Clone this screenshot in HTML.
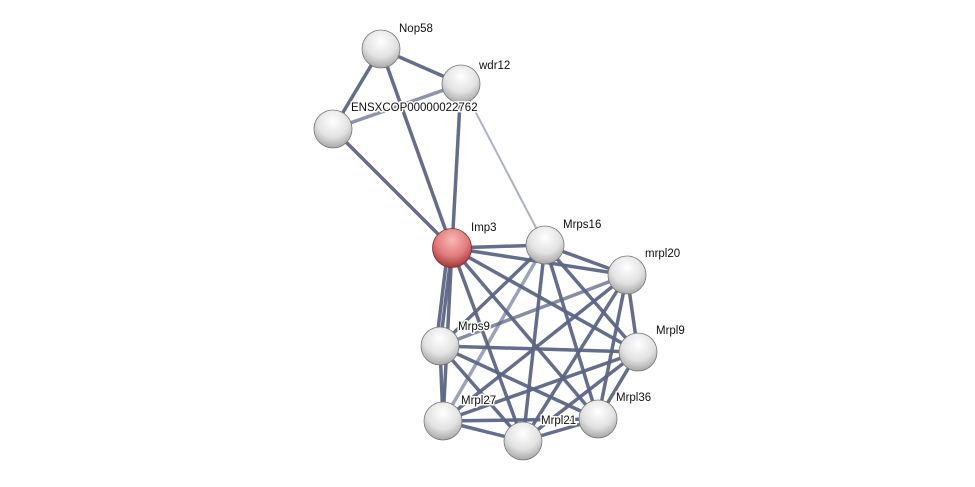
<!DOCTYPE html>
<html><head><meta charset="utf-8"><style>
html,body{margin:0;padding:0;background:#fff;}
svg{display:block}
text{font-family:"Liberation Sans",sans-serif;font-size:11.5px;fill:#111;paint-order:stroke;stroke:#fff;stroke-width:3px;stroke-linejoin:round}
</style></head><body>
<svg width="975" height="487" viewBox="0 0 975 487" xmlns="http://www.w3.org/2000/svg">
<defs>
<radialGradient id="g" cx="0.5" cy="0.3" r="0.7">
<stop offset="0" stop-color="#ffffff"/><stop offset="0.6" stop-color="#e2e2e2"/><stop offset="1" stop-color="#a8a8a8"/></radialGradient>
<radialGradient id="r" cx="0.5" cy="0.3" r="0.7">
<stop offset="0" stop-color="#f7b7b7"/><stop offset="0.6" stop-color="#e07a7a"/><stop offset="1" stop-color="#a03a3a"/></radialGradient>
</defs>
<g stroke="#5c6586" stroke-width="3.5" stroke-opacity="0.95">
<line x1="381" y1="49" x2="461" y2="84"/>
<line x1="381" y1="49" x2="333" y2="129"/>
<line x1="381" y1="49" x2="452" y2="248"/>
<line x1="461" y1="84" x2="452" y2="248"/>
<line x1="333" y1="129" x2="452" y2="248"/>
<line x1="461" y1="84" x2="333" y2="129" stroke-opacity="0.7"/>
<line x1="461" y1="84" x2="545" y2="245" stroke="#a8adc2" stroke-width="2"/>
<!-- clique -->
<line x1="452" y1="248" x2="545" y2="245"/>
<line x1="452" y1="248" x2="627" y2="275"/>
<line x1="452" y1="248" x2="638" y2="352"/>
<line x1="452" y1="248" x2="440" y2="346"/>
<line x1="448" y1="248" x2="436" y2="346"/>
<line x1="452" y1="248" x2="598" y2="419"/>
<line x1="452" y1="248" x2="443" y2="421"/>
<line x1="452" y1="248" x2="523" y2="441"/>
<line x1="545" y1="245" x2="627" y2="275"/>
<line x1="545" y1="245" x2="638" y2="352"/>
<line x1="545" y1="245" x2="440" y2="346"/>
<line x1="545" y1="245" x2="598" y2="419"/>
<line x1="545" y1="245" x2="443" y2="421" stroke-opacity="0.6"/>
<line x1="545" y1="245" x2="523" y2="441"/>
<line x1="627" y1="275" x2="638" y2="352"/>
<line x1="627" y1="275" x2="440" y2="346" stroke-opacity="0.75"/>
<line x1="627" y1="275" x2="598" y2="419"/>
<line x1="627" y1="275" x2="443" y2="421"/>
<line x1="627" y1="275" x2="523" y2="441"/>
<line x1="638" y1="352" x2="440" y2="346"/>
<line x1="638" y1="352" x2="598" y2="419"/>
<line x1="638" y1="352" x2="443" y2="421"/>
<line x1="638" y1="352" x2="523" y2="441"/>
<line x1="440" y1="346" x2="598" y2="419"/>
<line x1="440" y1="346" x2="443" y2="421"/>
<line x1="440" y1="346" x2="523" y2="441"/>
<line x1="598" y1="419" x2="443" y2="421"/>
<line x1="598" y1="419" x2="523" y2="441"/>
<line x1="443" y1="421" x2="523" y2="441"/>
</g>
<g stroke="#777" stroke-width="0.8">
<circle cx="381" cy="49" r="19" fill="url(#g)"/>
<circle cx="461" cy="84" r="19" fill="url(#g)"/>
<circle cx="333" cy="129" r="19" fill="url(#g)"/>
<circle cx="452" cy="248" r="19.5" fill="url(#r)" stroke="#8a2a2a"/>
<circle cx="545" cy="245" r="19" fill="url(#g)"/>
<circle cx="627" cy="275" r="19" fill="url(#g)"/>
<circle cx="638" cy="352" r="19" fill="url(#g)"/>
<circle cx="440" cy="346" r="19" fill="url(#g)"/>
<circle cx="598" cy="419" r="19" fill="url(#g)"/>
<circle cx="443" cy="421" r="19" fill="url(#g)"/>
<circle cx="523" cy="441" r="19" fill="url(#g)"/>
</g>
<text x="399" y="32">Nop58</text>
<text x="479" y="69">wdr12</text>
<text x="351" y="111">ENSXCOP00000022762</text>
<text x="471" y="231">Imp3</text>
<text x="563" y="228">Mrps16</text>
<text x="645" y="257">mrpl20</text>
<text x="656" y="334">Mrpl9</text>
<text x="458" y="330">Mrps9</text>
<text x="616" y="401">Mrpl36</text>
<text x="461" y="404">Mrpl27</text>
<text x="541" y="424">Mrpl21</text>
</svg>
</body></html>
